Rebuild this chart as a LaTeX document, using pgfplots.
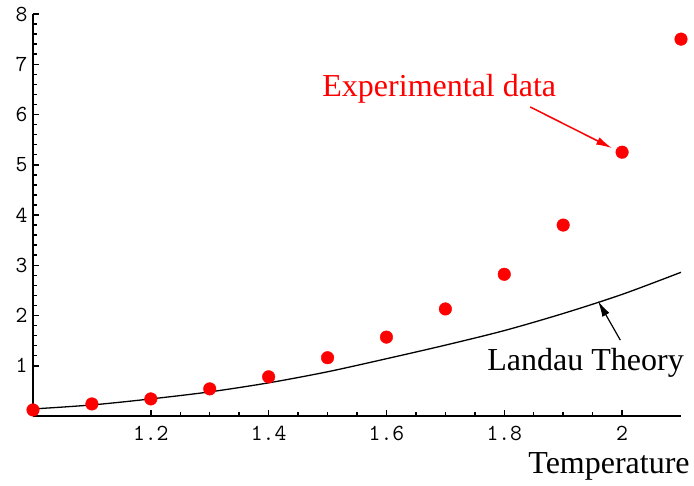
\documentclass[border=0pt]{standalone}
\usepackage{pgfplots}
\pgfplotsset{compat=1.18}
\usepackage{fontspec}
\setmainfont{Liberation Serif}
\usetikzlibrary{arrows.meta}
\begin{document}
\begin{tikzpicture}
\useasboundingbox (-33bp,-70bp) rectangle (661bp,416bp);
\begin{axis}[
  at={(0,0)}, anchor=south west,
  scale only axis, width=648bp, height=402bp,
  xmin=1, xmax=2.1, ymin=0, ymax=8,
  axis lines*=left,
  x axis line style={line width=1.8bp},
  y axis line style={line width=1.3bp},
  xtick={1.2,1.4,1.6,1.8,2}, xticklabels={1.2,1.4,1.6,1.8,2},
  ytick={1,2,3,4,5,6,7,8}, yticklabels={1,2,3,4,5,6,7,8},
  minor x tick num=3, minor y tick num=4,
  tick align=inside,
  major tick length=6bp, minor tick length=4bp,
  tick style={black, line width=1.5bp},
  /pgf/number format/assume math mode=true,
  ticklabel style={font=\ttfamily\fontsize{23bp}{25bp}\selectfont},
  xticklabel style={yshift=-7bp},
  yticklabel style={xshift=-2bp},
  clip=false,
]
\addplot[only marks, mark=*, mark size=6.3bp, red, mark options={draw=red, fill=red}] coordinates {
(1.0,0.12) (1.1,0.24) (1.2,0.34) (1.3,0.54) (1.4,0.78) (1.5,1.16)
(1.6,1.57) (1.7,2.13) (1.8,2.82) (1.9,3.8) (2.0,5.25) (2.1,7.5)
};
\addplot[black, line width=1.3bp, smooth, no marks] coordinates {
(1.0,0.14) (1.1,0.22) (1.2,0.34) (1.3,0.48) (1.4,0.66) (1.5,0.88)
(1.6,1.14) (1.7,1.41) (1.8,1.70) (1.9,2.04) (2.0,2.42) (2.1,2.86)
};
\node[red, anchor=base west, inner sep=0pt, font=\fontsize{32bp}{38bp}\selectfont] at (axis cs:1.491,6.35) {Experimental data};
\draw[red, line width=1.5bp, -{Latex[length=16bp,width=8bp]}] (axis cs:1.844,6.15) -- (axis cs:1.983,5.33);
\node[black, anchor=base west, inner sep=0pt, font=\fontsize{32bp}{38bp}\selectfont] at (axis cs:1.771,0.915) {Landau Theory};
\draw[black, line width=1.2bp, -{Latex[length=16bp,width=8bp]}] (axis cs:1.997,1.51) -- (axis cs:1.959,2.29);
\node[black, anchor=base east, inner sep=0pt, font=\fontsize{32bp}{38bp}\selectfont] at (axis cs:2.115,-1.154) {Temperature};
\end{axis}
\end{tikzpicture}
\end{document}
